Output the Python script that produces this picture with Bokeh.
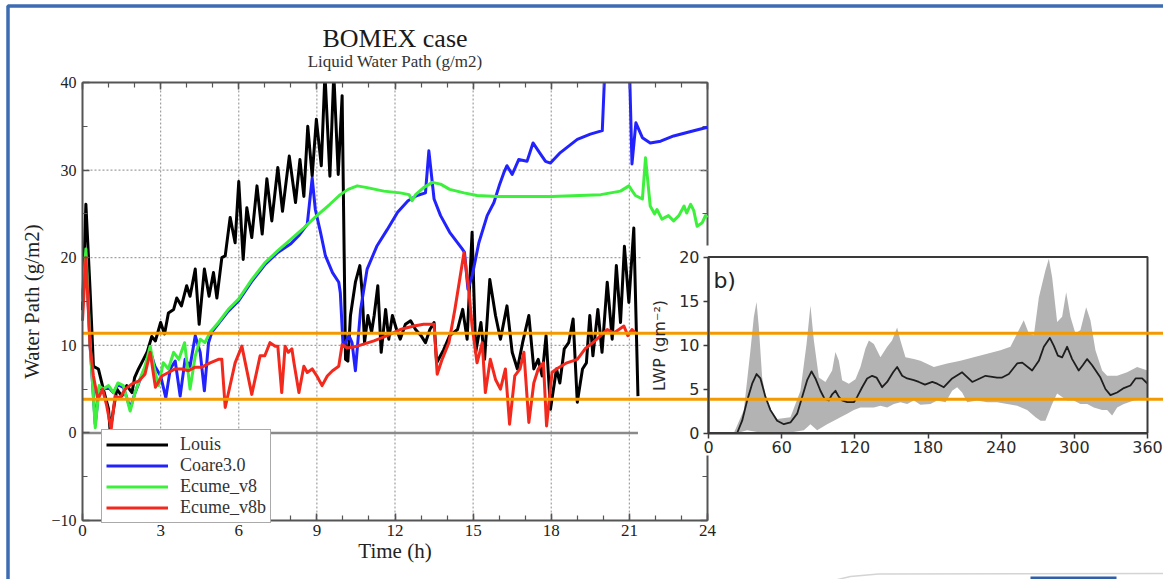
from bokeh.plotting import figure
from bokeh.models import Range1d, LinearAxis, SingleIntervalTicker, FixedTicker, Legend, LegendItem
from bokeh.core.properties import value
from bokeh.embed import file_html
from bokeh.resources import INLINE

# ---------------- data: main panel (Time in h, Water Path in g/m2) ----------------
LOUIS_T = [0.00, 0.13, 0.29, 0.42, 0.61, 0.80, 1.00, 1.06, 1.19, 1.32, 1.51, 1.70, 1.90, 2.00, 2.15, 2.34, 2.48,
           2.66, 2.80, 3.00, 3.15, 3.30, 3.50, 3.62, 3.80, 4.00, 4.13, 4.33, 4.48, 4.68, 4.86, 5.03, 5.16, 5.35,
           5.48, 5.67, 5.86, 6.00, 6.17, 6.31, 6.50, 6.70, 6.90, 7.08, 7.27, 7.50, 7.68, 7.94, 8.18, 8.35, 8.50,
           8.65, 8.82, 8.98, 9.17, 9.31, 9.50, 9.65, 9.82, 9.97, 10.10, 10.19, 10.29, 10.48, 10.65, 10.74, 10.83,
           10.96, 11.10, 11.20, 11.34, 11.47, 11.64, 11.76, 11.90, 12.06, 12.20, 12.40, 12.60, 12.79, 13.00, 13.17,
           13.34, 13.50, 13.60, 13.87, 14.10, 14.40, 14.60, 14.77, 14.96, 15.10, 15.30, 15.44, 15.64, 15.86, 16.05,
           16.30, 16.50, 16.70, 16.90, 17.14, 17.33, 17.50, 17.65, 17.80, 17.97, 18.20, 18.33, 18.50, 18.67, 18.84,
           19.00, 19.20, 19.35, 19.48, 19.60, 19.79, 19.95, 20.15, 20.34, 20.50, 20.66, 20.81, 20.98, 21.17, 21.33]
LOUIS_V = [14.0, 26.1, 16.4, 7.6, 7.3, 5.0, 2.7, 0.2, 2.7, 5.0, 4.2, 5.4, 4.6, 6.3, 7.3, 8.4, 9.2,
           11.0, 10.5, 12.6, 11.3, 13.7, 14.1, 15.4, 14.5, 16.8, 15.6, 18.7, 12.4, 18.7, 15.6, 18.3, 15.4, 20.0,
           20.2, 24.6, 21.7, 28.7, 19.8, 25.7, 22.3, 28.2, 22.7, 29.0, 24.2, 30.3, 25.3, 31.6, 26.3, 31.2, 27.0,
           35.0, 29.3, 35.8, 30.5, 41.0, 29.3, 41.0, 29.5, 38.5, 8.4, 8.2, 13.4, 17.2, 19.1, 16.0, 10.3,
           13.4, 11.5, 13.4, 16.8, 9.2, 14.1, 10.7, 13.4, 11.8, 10.7, 12.4, 12.8, 11.8, 11.1, 10.3,
           11.8, 12.6, 8.0, 9.5, 11.1, 11.8, 14.1, 10.7, 22.9, 9.2, 12.6, 8.4, 17.5, 13.4, 10.7,
           14.5, 9.2, 7.3, 10.3, 13.4, 7.3, 8.4, 6.5, 11.1, 2.7, 7.3, 5.7, 9.6, 10.3, 13.0,
           3.5, 7.3, 8.0, 13.4, 8.8, 14.1, 9.2, 17.2, 10.7, 19.1, 12.6, 21.3, 14.9, 23.4, 4.2]

COARE_T = [0.00, 0.13, 0.29, 0.49, 0.64, 0.80, 1.00, 1.19, 1.36, 1.57, 1.83, 2.02, 2.20, 2.40, 2.60, 2.78, 3.00,
           3.20, 3.37, 3.56, 3.75, 3.94, 4.13, 4.33, 4.52, 4.68, 4.84, 4.97, 5.20, 5.60, 6.00, 6.50, 7.00, 7.50,
           8.00, 8.30, 8.63, 8.82, 8.94, 9.14, 9.33, 9.60, 9.84, 9.90, 10.00, 10.03, 10.23, 10.35, 10.48, 10.68,
           10.93, 11.30, 11.70, 12.10, 12.50, 12.85, 13.17, 13.30, 13.50, 13.75, 14.10, 14.58, 14.67, 14.80, 14.96,
           15.22, 15.54, 15.80, 16.00, 16.18, 16.30, 16.50, 16.75, 17.07, 17.30, 17.55, 17.78, 17.97, 18.35, 19.00,
           19.50, 19.96, 20.15, 20.95, 21.10, 21.25, 21.50, 21.80, 22.20, 22.70, 23.47, 24.00]
COARE_V = [15.0, 20.5, 10.0, 1.0, 5.2, 5.0, 5.2, 4.6, 5.5, 5.2, 2.8, 4.6, 6.0, 7.4, 9.4, 7.6, 6.5,
           4.0, 7.3, 8.2, 4.2, 8.4, 7.6, 11.1, 9.2, 4.8, 10.3, 11.5, 12.4, 13.9, 15.1, 17.3, 19.2, 20.6,
           21.6, 22.5, 23.8, 29.1, 25.5, 22.9, 20.2, 18.3, 17.2, 16.0, 10.3, 9.9, 11.1, 10.3, 7.1, 14.1,
           18.7, 21.3, 23.2, 25.2, 26.5, 27.1, 27.4, 32.2, 26.7, 24.8, 22.9, 21.0, 20.6, 16.4, 17.9,
           21.7, 24.8, 26.3, 28.2, 29.7, 30.5, 29.5, 31.2, 31.0, 33.1, 32.0, 31.0, 30.8, 32.0, 33.5,
           34.1, 34.5, 48.0, 48.0, 30.7, 35.4, 33.7, 33.1, 33.3, 33.9, 34.5, 34.9]

ECUME_T = [0.00, 0.13, 0.29, 0.49, 0.64, 0.80, 1.00, 1.19, 1.36, 1.57, 1.83, 2.02, 2.20, 2.40, 2.60, 2.76, 2.92,
           3.10, 3.30, 3.50, 3.70, 3.92, 4.13, 4.33, 4.52, 4.70, 4.90, 5.22, 5.60, 6.00, 6.50, 7.00, 7.50, 8.00,
           8.50, 9.00, 9.50, 9.90, 10.20, 10.55, 10.93, 11.57, 12.20, 12.54, 12.66, 12.79, 13.10, 13.43, 13.75,
           14.10, 14.65, 15.15, 15.93, 17.00, 18.00, 19.90, 20.66, 20.98, 21.23, 21.50, 21.62, 21.80, 21.97, 22.06,
           22.25, 22.50, 22.70, 22.90, 23.10, 23.20, 23.35, 23.47, 23.60, 23.80, 23.92, 24.00]
ECUME_V = [15.0, 21.0, 10.3, 0.6, 5.4, 5.0, 5.4, 4.6, 5.7, 5.4, 2.5, 4.6, 6.1, 7.6, 9.9, 7.3, 5.4,
           8.0, 7.3, 9.2, 8.4, 10.3, 5.0, 8.8, 10.7, 10.3, 11.5, 12.6, 14.1, 15.3, 17.5, 19.4, 20.8, 22.1,
           23.4, 24.8, 26.1, 27.2, 27.8, 28.2, 28.0, 27.6, 27.4, 27.2, 26.5, 27.2, 28.0, 28.6, 28.4,
           27.8, 27.4, 27.1, 27.0, 27.0, 27.0, 27.2, 27.6, 28.2, 27.1, 26.7, 31.4, 25.9, 25.0, 25.5,
           24.4, 24.8, 24.2, 24.8, 25.9, 25.1, 26.1, 25.4, 23.6, 24.0, 24.8, 24.6]

ECUMEB_T = [0.00, 0.13, 0.29, 0.42, 0.59, 0.77, 0.93, 1.10, 1.25, 1.45, 1.64, 1.90, 2.15, 2.40, 2.60, 2.80, 3.05,
            3.30, 3.56, 3.81, 4.07, 4.33, 4.58, 4.90, 5.22, 5.35, 5.48, 5.86, 6.12, 6.50, 6.82, 7.00, 7.20, 7.40,
            7.50, 7.65, 7.78, 7.90, 8.04, 8.12, 8.31, 8.50, 8.63, 8.82, 9.00, 9.20, 9.40, 9.60, 9.84, 9.97, 10.16,
            10.55, 11.19, 11.70, 12.20, 12.73, 13.10, 13.50, 13.62, 13.81, 14.07, 14.30, 14.65, 14.83, 14.96, 15.15,
            15.35, 15.47, 15.66, 15.86, 16.05, 16.24, 16.40, 16.60, 16.80, 16.95, 17.14, 17.33, 17.50, 17.70, 17.82,
            18.03, 18.20, 18.60, 19.00, 19.30, 19.60, 19.90, 20.15, 20.40, 20.60, 20.79, 20.94, 21.10, 21.24]
ECUMEB_V = [12.8, 20.0, 9.9, 6.5, 3.8, 5.0, 3.1, 0.4, 4.2, 4.0, 5.0, 5.6, 5.9, 6.7, 9.2, 5.2, 6.5,
            6.9, 7.3, 7.3, 7.1, 7.5, 7.5, 8.0, 8.4, 8.4, 2.9, 8.0, 9.9, 4.4, 8.8, 8.8, 10.3, 9.9,
            9.9, 4.6, 9.9, 9.2, 9.6, 8.0, 4.6, 7.6, 6.9, 7.3, 6.5, 5.4, 6.5, 7.1, 7.6, 10.1, 9.7,
            9.9, 10.5, 11.1, 11.8, 12.2, 12.4, 12.4, 6.7, 8.4, 10.3, 14.1, 20.6, 16.4, 12.2, 8.0,
            10.3, 4.6, 8.4, 6.1, 5.0, 7.3, 1.0, 6.5, 7.3, 9.2, 1.2, 5.7, 7.3, 8.0, 0.8,
            6.9, 7.3, 8.0, 8.4, 9.6, 10.3, 11.1, 11.8, 11.4, 11.8, 12.2, 11.1, 11.8, 11.4]

SERIES_NAMES = ["Louis", "Coare3.0", "Ecume_v8", "Ecume_v8b"]
SERIES_COLORS = ["#000000", "#2222ff", "#3cf03c", "#f2291c"]
X_TICKS = [0, 3, 6, 9, 12, 15, 18, 21, 24]
Y_TICKS = [-10, 0, 10, 20, 30, 40]
ORANGE_LEVELS = [11.38, 3.85]

# ---------------- data: inset b) (time in min, LWP in g m-2) ----------------
MEAN_T = [23.5, 27.6, 31.7, 35.8, 39.4, 42.6, 46.7, 50.8, 56.3, 61.8, 67.2, 72.7, 76.8, 80.9, 84.5, 87.7, 91.8,
          95.1, 98.7, 101.4, 104.1, 106.9, 109.6, 113.7, 119.2, 121.9, 126.0, 130.1, 134.2, 137.8, 142.4, 146.5,
          151.4, 154.7, 158.8, 162.9, 168.4, 172.5, 177.5, 183.5, 187.5, 193.0, 199.8, 208.0, 216.3, 227.2, 236.7,
          240.8, 246.3, 253.1, 257.3, 265.4, 270.9, 275.0, 279.9, 283.2, 286.5, 290.0, 294.1, 298.2, 303.6, 306.9,
          310.5, 314.6, 321.4, 325.5, 329.6, 335.1, 340.6, 346.0, 350.2, 355.6, 360.0]
MEAN_V = [0.0, 1.4, 3.7, 5.6, 6.7, 6.2, 4.1, 2.6, 1.4, 1.0, 1.2, 2.2, 4.1, 6.0, 7.0, 6.2, 4.8,
          3.9, 3.7, 4.4, 4.8, 4.1, 3.7, 3.5, 3.5, 4.1, 5.2, 6.2, 6.5, 6.3, 5.2, 5.8,
          6.9, 7.5, 6.5, 6.2, 6.0, 5.8, 5.5, 5.8, 5.6, 5.2, 6.2, 6.9, 5.8, 6.5, 6.3,
          6.3, 6.7, 7.9, 8.0, 7.1, 8.2, 9.8, 10.8, 9.9, 8.8, 8.6, 9.8, 8.4, 7.1, 7.7,
          8.4, 7.7, 6.3, 5.0, 4.3, 4.6, 5.1, 5.4, 6.2, 6.2, 5.6]
UPPER_T = [20.8, 29.0, 34.4, 37.2, 39.4, 41.3, 44.0, 48.1, 56.3, 67.2, 75.4, 80.4, 83.6, 86.4, 90.5, 95.9, 101.4,
           104.1, 106.9, 109.6, 115.1, 120.5, 124.6, 128.7, 131.5, 135.6, 141.0, 146.5, 150.5, 154.7, 157.4, 161.5,
           168.4, 173.8, 184.8, 195.7, 206.6, 217.5, 228.5, 239.4, 247.6, 253.1, 258.5, 262.7, 266.8, 270.9, 276.3,
           279.1, 281.8, 285.9, 290.0, 293.3, 296.8, 300.9, 305.0, 309.7, 313.2, 317.3, 322.8, 326.9, 335.1, 343.3,
           351.5, 360.0]
UPPER_V = [0.0, 2.6, 9.4, 13.2, 14.9, 12.0, 6.3, 3.3, 1.6, 1.8, 4.8, 10.1, 14.5, 10.5, 6.3, 5.8, 7.1,
           9.2, 8.2, 6.0, 5.6, 6.1, 7.5, 9.6, 10.5, 10.1, 8.6, 9.8, 10.5, 12.0, 10.5, 8.6,
           8.4, 8.2, 7.5, 7.9, 8.2, 8.6, 9.0, 9.4, 9.8, 11.3, 12.8, 11.3, 11.1, 15.4, 18.5,
           19.8, 17.7, 12.6, 13.2, 16.0, 13.2, 11.3, 11.7, 14.3, 12.8, 9.4, 7.1, 6.5, 6.5, 6.9,
           7.5, 7.1]
LOWER_T = [23.5, 31.7, 39.9, 48.1, 64.5, 78.2, 83.6, 89.1, 97.3, 102.8, 108.2, 113.7, 119.2, 124.6, 130.1, 135.6,
           141.0, 146.5, 152.0, 157.4, 162.9, 168.4, 173.8, 182.0, 187.5, 194.4, 199.8, 203.9, 208.0, 212.1, 220.3,
           228.5, 236.7, 245.0, 253.1, 261.3, 268.2, 272.3, 276.3, 281.8, 285.9, 290.0, 294.1, 299.5, 305.0, 310.5,
           316.0, 322.8, 326.9, 331.0, 335.1, 340.6, 348.8, 360.0]
LOWER_V = [0.0, 0.3, 0.1, 0.0, 0.0, 0.3, 1.0, 0.3, 1.0, 1.4, 1.8, 2.2, 2.6, 2.9, 2.9, 2.9,
           3.1, 2.9, 3.3, 3.5, 3.3, 3.7, 3.2, 3.3, 3.7, 3.5, 4.8, 5.2, 4.6, 3.5, 3.7,
           3.5, 3.5, 3.3, 3.1, 2.6, 1.8, 1.4, 1.4, 3.3, 4.5, 4.1, 3.7, 3.7, 3.3, 3.3,
           2.9, 2.6, 2.6, 2.0, 2.9, 3.3, 3.7, 3.9]
INSET_X_TICKS = [0, 60, 120, 180, 240, 300, 360]
INSET_Y_TICKS = [0, 5, 10, 15, 20]

# ---------------- page geometry (pixels) ----------------
W, H = 1163, 579
M_X0, M_X1 = 82, 707          # main panel: t=0 .. t=24
M_YTOP, M_YBOT = 82, 520      # main panel: 40 .. -10
PX_H = (M_X1 - M_X0) / (X_TICKS[-1] - X_TICKS[0])
PX_V = (M_YBOT - M_YTOP) / (Y_TICKS[-1] - Y_TICKS[0])
M_Y0 = M_YBOT + Y_TICKS[0] * PX_V   # pixel row of value 0


def mx(px):
    return (px - M_X0) / PX_H


def my(py):
    return (M_Y0 - py) / PX_V


I_X0, I_X1 = 708, 1147        # inset: 0 .. 360
I_Y0, I_YTOP = 432.5, 256.5   # inset: 0 .. 20
IPX_X = (I_X1 - I_X0) / INSET_X_TICKS[-1]
IPX_Y = (I_Y0 - I_YTOP) / INSET_Y_TICKS[-1]


def ix(px):
    return (px - I_X0) / IPX_X


def iy(py):
    return (I_Y0 - py) / IPX_Y


SERIF = "Liberation Serif"
SANS = "DejaVu Sans"

p = figure(width=W, height=H, x_range=Range1d(mx(0), mx(W)), y_range=Range1d(my(H), my(0)),
           x_axis_type=None, y_axis_type=None, toolbar_location=None, output_backend="svg",
           min_border=0)
p.extra_x_ranges = {"ix": Range1d(ix(0), ix(W))}
p.extra_y_ranges = {"iy": Range1d(iy(H), iy(0))}
p.outline_line_color = None
p.background_fill_color = "white"
p.border_fill_color = "white"

# ---- main panel grid (dotted) ----
gx = [t for t in X_TICKS if X_TICKS[0] < t < X_TICKS[-1]]
gy = [v for v in Y_TICKS if 0 < v < Y_TICKS[-1]]
p.segment(x0=gx, y0=[Y_TICKS[0]] * len(gx), x1=gx, y1=[Y_TICKS[-1]] * len(gx),
          line_color="#a0a0a0", line_width=1.2, line_dash="2 2")
p.segment(x0=[X_TICKS[0]] * len(gy), y0=gy, x1=[X_TICKS[-1]] * len(gy), y1=gy,
          line_color="#a0a0a0", line_width=1.2, line_dash="2 2")
# zero line over the simulated period
p.segment(x0=[0], y0=[0], x1=[max(LOUIS_T)], y1=[0], line_color="#8a8a8a", line_width=2.5)

renderers = []
for (tt, vv), c in zip([(LOUIS_T, LOUIS_V), (COARE_T, COARE_V), (ECUME_T, ECUME_V), (ECUMEB_T, ECUMEB_V)],
                       SERIES_COLORS):
    renderers.append(p.line(tt, vv, line_color=c, line_width=3, line_join="round"))

# clip values above the top of the main panel
p.quad(left=[X_TICKS[0]], right=[X_TICKS[-1]], bottom=[Y_TICKS[-1]], top=[p.y_range.end],
       fill_color="white", line_color=None)

# ---- inset b) ----
p.quad(left=[ix(641)], right=[ix(W)], bottom=[iy(455)], top=[iy(245)], x_range_name="ix", y_range_name="iy",
       fill_color="white", line_color=None)
p.patch(UPPER_T + LOWER_T[::-1], UPPER_V + LOWER_V[::-1], x_range_name="ix", y_range_name="iy",
        fill_color="#b3b3b3", line_color=None)
p.line(MEAN_T, MEAN_V, x_range_name="ix", y_range_name="iy", line_color="#1e1e1e", line_width=1.8,
       line_join="round")
p.quad(left=[INSET_X_TICKS[0]], right=[INSET_X_TICKS[-1]], bottom=[INSET_Y_TICKS[0]], top=[INSET_Y_TICKS[-1]],
       x_range_name="ix", y_range_name="iy", fill_color=None, line_color="#3a3a3a", line_width=2)
p.text(x=[4], y=[17.3], text=["b)"], x_range_name="ix", y_range_name="iy", text_font=value(SANS),
       text_font_size="22px", text_baseline="middle", text_align="left", text_color="#222222")

# ---- orange reference lines ----
p.segment(x0=[0] * len(ORANGE_LEVELS), y0=ORANGE_LEVELS, x1=[p.x_range.end] * len(ORANGE_LEVELS),
          y1=ORANGE_LEVELS, line_color="#f39a00", line_width=3)

# ---- titles ----
mid = (X_TICKS[0] + X_TICKS[-1]) / 2
p.text(x=[mid], y=[my(38)], text=["BOMEX case"], text_font=value(SERIF), text_font_size="26px",
       text_align="center", text_baseline="middle", text_color="#1a1a1a")
p.text(x=[mid], y=[my(61)], text=["Liquid Water Path (g/m2)"], text_font=value(SERIF), text_font_size="17px",
       text_align="center", text_baseline="middle", text_color="#333333")

# ---- slide decorations ----
p.line(x=[mx(7.5), mx(7.5), mx(W + 2)], y=[my(H + 2), my(5.5), my(5.5)], line_color="#3d6cb2", line_width=3.5)
p.line(x=[mx(833), mx(850), mx(878), mx(W + 2)], y=[my(H + 1), my(576), my(573.5), my(573)],
       line_color="#d4d4d4", line_width=1.5)
p.quad(left=[mx(1030)], right=[mx(1116)], bottom=[my(H + 2)], top=[my(576)], fill_color="#2f5fa8",
       line_color=None)

# ---- axes of the main panel ----
AX_COL = "#555555"


def style_main(ax):
    ax.axis_line_color = AX_COL
    ax.axis_line_width = 2
    ax.major_tick_line_color = AX_COL
    ax.minor_tick_line_color = AX_COL
    ax.major_tick_line_width = 1.5
    ax.minor_tick_line_width = 1.2
    ax.major_tick_in = 7
    ax.major_tick_out = 0
    ax.minor_tick_in = 5
    ax.minor_tick_out = 0
    ax.major_label_text_font = SERIF
    ax.major_label_text_color = "#222222"
    ax.axis_label_text_font = SERIF
    ax.axis_label_text_font_style = "normal"
    ax.axis_label_text_color = "#222222"


xt = SingleIntervalTicker(interval=3, num_minor_ticks=3)
yt = SingleIntervalTicker(interval=10, num_minor_ticks=2)
ax_left = LinearAxis(fixed_location=X_TICKS[0], bounds=(Y_TICKS[0], Y_TICKS[-1]), ticker=yt,
                     axis_label="Water Path (g/m2)")
style_main(ax_left)
ax_left.major_label_text_font_size = "16px"
ax_left.major_label_standoff = 6
ax_left.axis_label_text_font_size = "21px"
ax_left.axis_label_standoff = 4
p.add_layout(ax_left, "left")

ax_bot = LinearAxis(fixed_location=Y_TICKS[0], bounds=(X_TICKS[0], X_TICKS[-1]), ticker=xt,
                    axis_label="Time (h)")
style_main(ax_bot)
ax_bot.major_label_text_font_size = "17px"
ax_bot.major_label_standoff = 4
ax_bot.axis_label_text_font_size = "21px"
ax_bot.axis_label_standoff = 0
p.add_layout(ax_bot, "below")

ax_top = LinearAxis(fixed_location=Y_TICKS[-1], bounds=(X_TICKS[0], X_TICKS[-1]), ticker=xt)
style_main(ax_top)
ax_top.major_label_text_color = None
p.add_layout(ax_top, "above")

ax_right = LinearAxis(fixed_location=X_TICKS[-1], bounds=(Y_TICKS[0], Y_TICKS[-1]), ticker=yt, level="underlay")
style_main(ax_right)
ax_right.major_label_text_color = None
p.add_layout(ax_right, "right")

# ---- axes of the inset ----
def style_inset(ax):
    ax.axis_line_color = "#3a3a3a"
    ax.axis_line_width = 2
    ax.major_tick_line_color = "#3a3a3a"
    ax.major_tick_line_width = 1.5
    ax.major_tick_in = 0
    ax.major_tick_out = 5
    ax.minor_tick_line_color = None
    ax.major_label_text_font = SANS
    ax.major_label_text_font_size = "16px"
    ax.major_label_text_color = "#2a2a2a"
    ax.axis_label_text_font = SANS
    ax.axis_label_text_font_style = "normal"
    ax.axis_label_text_color = "#2a2a2a"


ax_il = LinearAxis(x_range_name="ix", y_range_name="iy", fixed_location=INSET_X_TICKS[0],
                   bounds=(INSET_Y_TICKS[0], INSET_Y_TICKS[-1]), ticker=FixedTicker(ticks=INSET_Y_TICKS),
                   axis_label="LWP (gm\u207b\u00b2)")
style_inset(ax_il)
ax_il.major_label_standoff = 4
ax_il.axis_label_text_font_size = "16px"
ax_il.axis_label_standoff = 7
p.add_layout(ax_il, "left")

ax_ib = LinearAxis(x_range_name="ix", y_range_name="iy", fixed_location=INSET_Y_TICKS[0],
                   bounds=(INSET_X_TICKS[0], INSET_X_TICKS[-1]), ticker=FixedTicker(ticks=INSET_X_TICKS))
style_inset(ax_ib)
ax_ib.major_label_standoff = 3
p.add_layout(ax_ib, "below")

# ---- legend ----
legend = Legend(items=[LegendItem(label=n, renderers=[r]) for n, r in zip(SERIES_NAMES, renderers)],
                location=(101, 56), orientation="vertical",
                border_line_color="#555555", border_line_width=1.5,
                background_fill_color="white", background_fill_alpha=1.0,
                label_text_font=SERIF, label_text_font_size="18px", label_text_color="#333333",
                glyph_width=62, glyph_height=19, label_height=19, label_standoff=12,
                padding=4, spacing=0, margin=0)
p.add_layout(legend)

open("out.html", "w").write(file_html(p, INLINE))
